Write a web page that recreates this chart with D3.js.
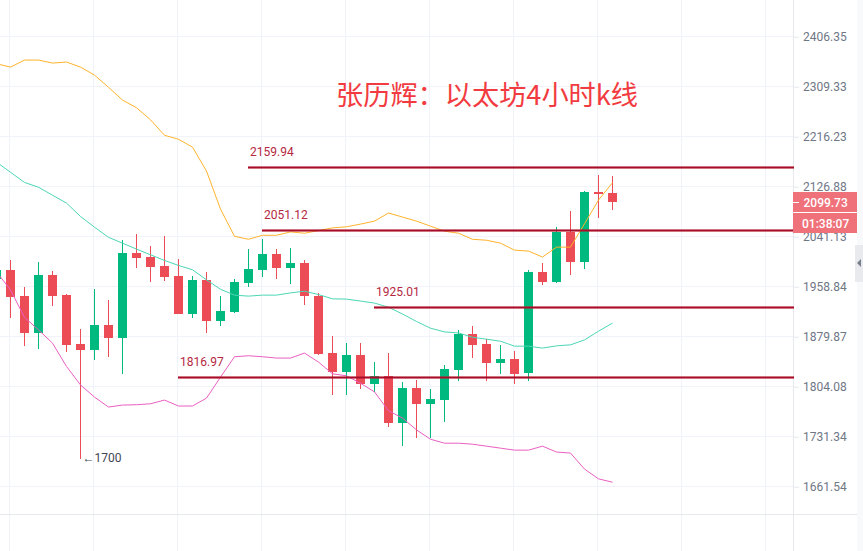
<!DOCTYPE html>
<html><head><meta charset="utf-8">
<script src="https://cdn.jsdelivr.net/npm/d3@7"></script>
<style>
html,body{margin:0;padding:0;background:#fff;overflow:hidden}
svg{display:block}
text{font-family:Roboto,"Noto Sans",sans-serif}
</style></head><body>
<svg id="c" width="863" height="551"></svg>
<script>
const opens=[1971,1986.3,1944.2,1885.7,1978.1,1945.7,1868.8,1859.7,1898.4,1877.9,2014.3,2007.7,1992.9,1976.4,1915.7,1969.9,1904.7,1918.9,1964.9,1986.3,2012.7,1989.6,1997.8,1944.6,1855.2,1826.4,1852.1,1808.2,1820.3,1751.3,1802.2,1778.9,1784.7,1829.4,1884.1,1868.8,1840,1846.1,1823.8,1983,1966.5,2049.2,1999.5,2117.8,2116.1];
const highs=[1994.5,2002.8,1958.8,1999,1983.5,1947.3,1891.6,1955.2,1937.4,2035.7,2045.8,2025.8,2042.3,2004.4,1976.4,1983,1944.2,1971,2020.9,2037.8,2020.9,2022,2001.6,1948.9,1880.9,1870.3,1870.3,1841.5,1854.7,1811,1814,1800.3,1836.5,1890.4,1896.8,1876.4,1867.3,1857.7,1986.3,1997.8,2057.8,2085.2,2119,2147.2,2146];
const lows=[1964.9,1909.4,1866.2,1860.2,1928.4,1855.6,1700,1844.5,1849.1,1822.3,1989.6,1966.5,1968.2,1915.7,1909.4,1885.7,1896.8,1917.3,1958.4,1975.3,1971.5,1963.3,1928.8,1851.7,1792,1792,1800.7,1796.4,1745.4,1718.4,1729.5,1729.5,1752.7,1812.7,1847.6,1812.7,1823.3,1808.2,1813.2,1961.6,1964.9,1978.1,1988,2073.2,2087];
const closes=[1986.3,1942.6,1885.7,1978.1,1944.2,1867.3,1859.7,1898.4,1877.9,2014.3,2006.1,1991.2,1974.8,1915.7,1969.9,1904.7,1920.5,1966.5,1988,2012.7,1989.6,1997.8,1944.6,1853.6,1826.4,1852.1,1808.2,1820.3,1751.3,1802.2,1778.9,1786.2,1830.9,1884.1,1867.3,1840,1846.1,1823.3,1983,1966.5,2049.2,1999.5,2117.8,2114.4,2099.73];
const upperBand=[2353.4,2346.9,2360.5,2360.5,2354.7,2356.7,2346.9,2331.4,2308.2,2284,2269.7,2247.3,2218.8,2211.6,2197.3,2154.4,2088.1,2041.8,2036.8,2043.5,2043.5,2049.2,2047,2051.4,2056,2057.8,2062.4,2067.5,2081.3,2074.4,2067.5,2058.9,2050.4,2047,2036.8,2035.2,2030.3,2018.7,2017.1,2007.2,2023.7,2023.7,2062.9,2103.6,2134];
const middleBand=[2170.3,2152.3,2134.4,2125.9,2112.1,2098.4,2075.4,2057.2,2040.1,2030.3,2020.4,2011,2001.6,1993.4,1986.3,1969.9,1954.7,1945.3,1943.7,1945.3,1945.3,1948.9,1951.6,1946.2,1939.4,1938.9,1935.8,1932.6,1926,1915.3,1903.6,1893.1,1887.3,1885.7,1879,1876,1872.9,1865.3,1865.3,1862.3,1865.8,1867.3,1874.9,1888.4,1901];
const lowerBand=[1983,1953.6,1909.9,1890.5,1869.9,1834.4,1806.7,1788.7,1774.1,1777,1777.5,1778.9,1784.3,1775.6,1775.6,1787.2,1818.3,1849.1,1850.6,1849.1,1847.1,1847.1,1854.7,1841,1823.3,1820.3,1809.2,1796.4,1768.7,1758.1,1741.1,1727.7,1722.1,1722.1,1720.7,1717.9,1715.1,1712.3,1712.3,1717.9,1709.6,1708.2,1685.8,1672.3,1667.7];
const levelValues=[2159.94,2051.12,1925.01,1816.97];
const levelStarts=[18,19,27,13];
const priceTicks=[2406.35,2309.33,2216.23,2126.88,2041.13,1958.84,1879.87,1804.08,1731.34,1661.54];
const gridSlots=[0.96,6.96,12.96,18.96,24.96,30.96,36.96,42.96,48.96,54.96];
const titleText="张历辉：以太坊4小时k线";
const lastPrice="2099.73";
const countdown="01:38:07";
const lowNote="← 1700";

const W=863,H=551,AX=793.5,BOT=514.5;
const x=d3.scaleLinear().domain([0,44]).range([-3.5,612.5]);
const y=d3.scaleLog().domain([1661.54,2406.35]).range([486.7,36.7]);
const svg=d3.select("#c");
svg.append("rect").attr("width",W).attr("height",H).attr("fill","#fff");

// grid
const grid=svg.append("g").attr("stroke","#f0f3fa").attr("shape-rendering","crispEdges");
grid.selectAll(".v").data(gridSlots).join("line")
 .attr("x1",d=>Math.floor(x(d))+.5).attr("x2",d=>Math.floor(x(d))+.5).attr("y1",0).attr("y2",H);
grid.selectAll(".h").data(priceTicks).join("line")
 .attr("x1",0).attr("x2",AX).attr("y1",d=>Math.floor(y(d))+.5).attr("y2",d=>Math.floor(y(d))+.5);

// right strip, frame
svg.append("rect").attr("x",857).attr("y",0).attr("width",6).attr("height",H).attr("fill","#f8f9fb");
svg.append("line").attr("x1",AX).attr("x2",AX).attr("y1",0).attr("y2",H).attr("stroke","#e6e8ee").attr("shape-rendering","crispEdges");
svg.append("line").attr("x1",0).attr("x2",857).attr("y1",BOT).attr("y2",BOT).attr("stroke","#e6e8ee").attr("shape-rendering","crispEdges");

// axis
const axis=d3.axisRight(y).tickValues(priceTicks).tickFormat(d3.format(".2f")).tickSize(6).tickPadding(4);
const ag=svg.append("g").attr("transform",`translate(${AX-.5},0)`).call(axis);
ag.select(".domain").remove();
ag.selectAll(".tick line").attr("stroke","#e6e8ee");
ag.selectAll(".tick text").attr("fill","#6f7785").attr("font-size",12).attr("font-family","Roboto");

// candles
const idx=d3.range(opens.length);
const col=i=>closes[i]>=opens[i]?"#00b97f":"#ec4c55";
const cg=svg.append("g").attr("shape-rendering","crispEdges");
cg.selectAll(".w").data(idx).join("rect")
 .attr("x",i=>x(i)-.5).attr("width",1)
 .attr("y",i=>Math.round(y(highs[i]))).attr("height",i=>Math.round(y(lows[i]))-Math.round(y(highs[i])))
 .attr("fill",col);
cg.selectAll(".b").data(idx).join("rect")
 .attr("x",i=>x(i)-4.5).attr("width",9)
 .attr("y",i=>Math.round(y(Math.max(opens[i],closes[i]))))
 .attr("height",i=>Math.max(1,Math.round(y(Math.min(opens[i],closes[i])))-Math.round(y(Math.max(opens[i],closes[i])))))
 .attr("fill",col);

// bands
const line=d3.line().x((d,i)=>x(i)).y(d=>y(d));
[[upperBand,"#ffb32c"],[middleBand,"#4cd6b4"],[lowerBand,"#ea5fc2"]].forEach(([s,c])=>{
 svg.append("path").attr("d",line(s)).attr("fill","none").attr("stroke",c).attr("stroke-width",1);
});

// horizontal levels
levelValues.forEach((v,k)=>{
 const x0=x(levelStarts[k])-.5, py=Math.round(y(v))-.5;
 svg.append("line").attr("x1",x0).attr("x2",AX).attr("y1",py).attr("y2",py).attr("stroke","#b5162e").attr("stroke-opacity",.6).attr("stroke-width",3).attr("shape-rendering","crispEdges");
 svg.append("line").attr("x1",x0).attr("x2",AX).attr("y1",py).attr("y2",py).attr("stroke","#a30f28").attr("stroke-width",1).attr("shape-rendering","crispEdges");
 svg.append("text").attr("x",x0+2).attr("y",py-11.5).attr("fill","#b5283f").attr("font-size",12).text(d3.format(".2f")(v));
});

// low note
svg.append("text").attr("x",x(6)+2).attr("y",y(1700)+3).attr("fill","#3f4653").attr("font-size",12).attr("word-spacing","-3px").text(lowNote);

// title
svg.append("text").attr("x",336).attr("y",104.5).attr("fill","#f23b40").attr("font-size",27.2)
 .style("font-family",'"Noto Sans CJK SC",sans-serif').text(titleText);

// price tags
const tagY=Math.round(y(+lastPrice));
svg.append("rect").attr("x",793).attr("y",tagY-10).attr("width",64).attr("height",20).attr("fill","#ef717a");
svg.append("rect").attr("x",793).attr("y",tagY+11).attr("width",64).attr("height",20).attr("fill","#ef717a");
svg.append("line").attr("x1",793).attr("x2",799).attr("y1",tagY+.5).attr("y2",tagY+.5).attr("stroke","#fff").attr("shape-rendering","crispEdges");
svg.append("text").attr("x",803.5).attr("y",tagY+4.5).attr("fill","#fff").attr("font-size",12).attr("font-weight",500).text(lastPrice);
svg.append("text").attr("x",802).attr("y",tagY+25.5).attr("fill","#fff").attr("font-size",12).attr("font-weight",500).text(countdown);

// collapse handle
svg.append("rect").attr("x",855).attr("y",245).attr("width",8).attr("height",37).attr("fill","#e8eaee");
svg.append("path").attr("d",d3.line()([[861,259],[861,267],[857,263]])+"Z").attr("fill","#787f8b");
</script>
</body></html>
